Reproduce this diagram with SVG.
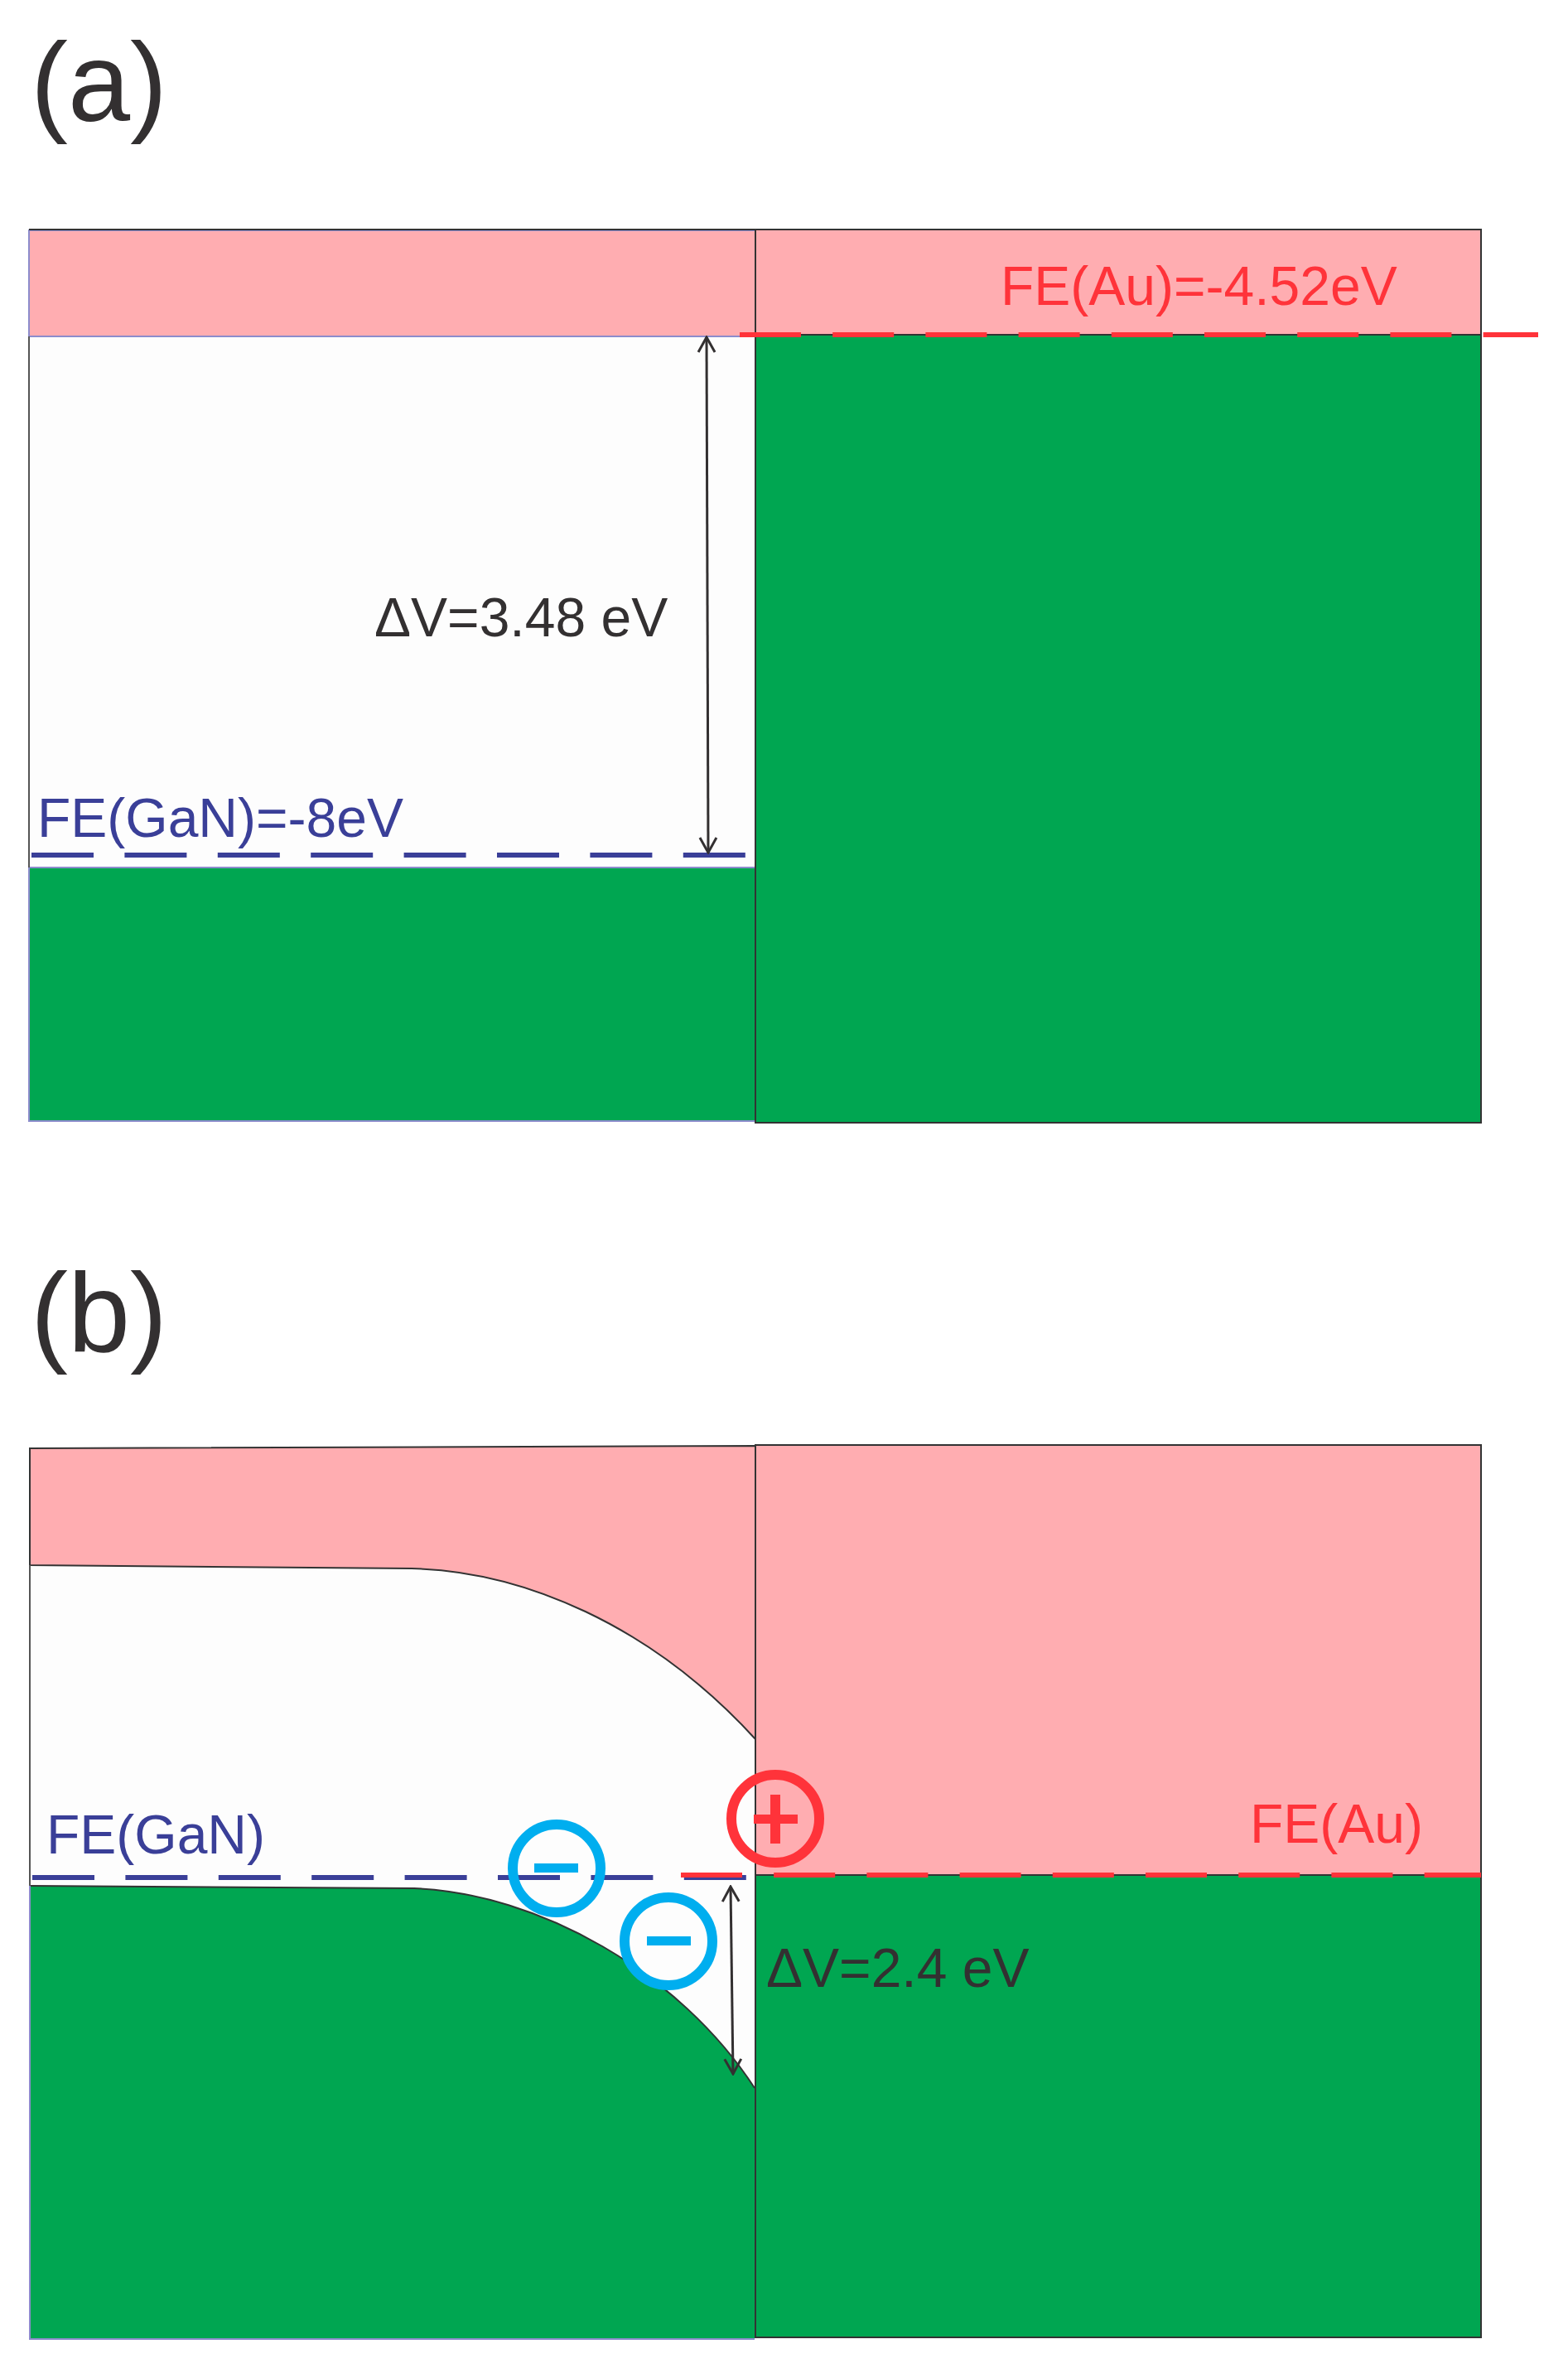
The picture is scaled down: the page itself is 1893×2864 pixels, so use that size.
<svg xmlns="http://www.w3.org/2000/svg" width="1893" height="2864" viewBox="0 0 1893 2864">
<style>
.lbl{font-family:"Liberation Sans",Arial,sans-serif;font-size:135px;fill:#333031}
.t{font-family:"Liberation Sans",Arial,sans-serif;font-size:66px}
.dark{fill:#333031}
.blue{fill:#3A3F98}
.red{fill:#FF333A}
.pink{fill:#FFADB1}
.green{fill:#00A651}
.white{fill:#FDFDFD}
.edge{stroke:#333333;stroke-width:2}
.lav{stroke:#8C8CCC;stroke-width:2}
.bdash{stroke:#3A3F98;stroke-width:6;stroke-dasharray:75 37.4;fill:none}
.rdash{stroke:#FF333A;stroke-width:6;stroke-dasharray:74 38.2;fill:none}
.ring{fill:none;stroke-width:12}
.arr{stroke:#333031;stroke-width:3;fill:none;marker-start:url(#ah);marker-end:url(#ah)}
</style>
<defs>
<marker id="ah" viewBox="-20 -12 22 24" refX="0" refY="0" markerWidth="22" markerHeight="24" markerUnits="userSpaceOnUse" orient="auto-start-reverse">
<path d="M-18,-10 L0,0 L-18,10" fill="none" stroke="#333031" stroke-width="3"/>
</marker>
</defs>
<rect width="1893" height="2864" fill="#FFFFFF"/>

<g id="panel-a">
<text class="lbl" x="37" y="146">(a)</text>
<g id="gan-a">
<rect class="white" x="35" y="406" width="877" height="641"/>
<rect class="pink lav" x="35" y="278" width="877" height="128"/>
<rect class="green lav" x="35" y="1047" width="877" height="306"/>
<line class="edge" x1="35" y1="277" x2="912" y2="277"/>
<line x1="35" y1="406" x2="35" y2="1047" stroke="#555" stroke-width="2"/>
</g>
<g id="au-a">
<rect class="pink" x="912" y="277" width="876" height="127"/>
<rect class="green" x="912" y="404" width="876" height="951"/>
<rect x="912" y="277" width="876" height="1078" fill="none" class="edge"/>
<line class="edge" x1="912" y1="404" x2="1788" y2="404"/>
</g>
<text class="t red" x="1208" y="368">FE(Au)=-4.52eV</text>
<text class="t blue" x="45" y="1010">FE(GaN)=-8eV</text>
<text class="t dark" x="452" y="768">ΔV=3.48 eV</text>
</g>

<g id="panel-b">
<text class="lbl" x="37" y="1631">(b)</text>
<g id="gan-b">
<rect class="white" x="36" y="1748" width="876" height="1075"/>
<path class="pink edge" d="M36,1748 L912,1745 L912,2099 C785,1960 630,1896 497,1893 L36,1889 Z"/>
<path class="green" d="M36,2276 L500,2279 C650,2285 820,2380 911,2520 L911,2823 L36,2823 Z"/>
<path d="M36,2276 L500,2279 C650,2285 820,2380 911,2520" fill="none" stroke="#333" stroke-width="2"/>
<path d="M36,2276 L36,2823 L911,2823" fill="none" class="lav"/>
<line x1="36" y1="1889" x2="36" y2="2276" stroke="#555" stroke-width="2"/>
</g>
<g id="au-b">
<rect class="pink" x="912" y="1744" width="876" height="519"/>
<rect class="green" x="912" y="2263" width="876" height="558"/>
<rect x="912" y="1744" width="876" height="1077" fill="none" class="edge"/>
<line class="edge" x1="912" y1="2263" x2="1788" y2="2263"/>
</g>
<text class="t blue" x="56" y="2237">FE(GaN)</text>
<text class="t red" x="1509" y="2224">FE(Au)</text>
<text class="t dark" x="925" y="2398">ΔV=2.4 eV</text>
</g>

<g id="connectors">
<line class="rdash" x1="893" y1="404" x2="1857" y2="404"/>
<line class="bdash" x1="38" y1="1032" x2="901" y2="1032"/>
<line class="arr" x1="853" y1="407" x2="855" y2="1029"/>
<line class="bdash" x1="39" y1="2266" x2="901" y2="2266"/>
<line class="rdash" x1="822" y1="2263" x2="1788" y2="2263"/>
<line class="arr" x1="882" y1="2277" x2="885" y2="2503"/>
</g>

<g id="charge-plus">
<circle class="ring" cx="936" cy="2195" r="53" stroke="#FF333A"/>
<rect class="red" x="910" y="2190" width="53" height="11"/>
<rect class="red" x="930" y="2166" width="12" height="59"/>
</g>
<g id="charge-minus-1">
<circle class="ring" cx="672" cy="2255" r="53" stroke="#00AEEF"/>
<rect x="645" y="2249" width="53" height="11" fill="#00AEEF"/>
</g>
<g id="charge-minus-2">
<circle class="ring" cx="807" cy="2343" r="53" stroke="#00AEEF"/>
<rect x="781" y="2337" width="53" height="11" fill="#00AEEF"/>
</g>
</svg>
